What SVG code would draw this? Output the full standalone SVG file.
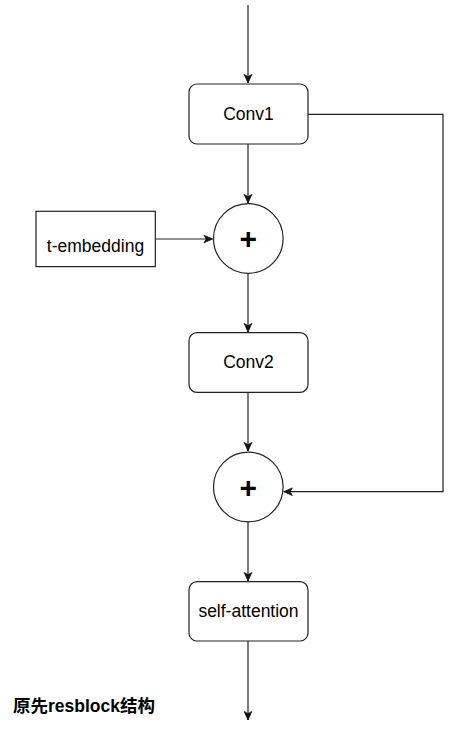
<svg xmlns="http://www.w3.org/2000/svg" width="469" height="735" viewBox="0 0 469 735">
<style>
.box{fill:#fff;stroke:#222;stroke-width:1.2}
.edge{fill:none;stroke:#222;stroke-width:1.2}
.lbl{font-family:"Liberation Sans",Arial,sans-serif;font-size:17.5px;fill:#000;text-anchor:middle}
.plus{font-family:"Liberation Sans",Arial,sans-serif;font-size:30px;font-weight:bold;fill:#000;text-anchor:middle}
.cap{font-family:"Liberation Sans","Noto Sans CJK SC",sans-serif;font-size:17.5px;font-weight:bold;fill:#000}
</style>
<defs>
<marker id="arr" markerUnits="userSpaceOnUse" markerWidth="12" markerHeight="10" viewBox="-9 -5 10 10" refX="0" refY="0" orient="auto">
<path d="M0,0 L-8.5,-3.8 L-6.3,0 L-8.5,3.8 Z" fill="#111" stroke="#111" stroke-width="0.8" stroke-linejoin="miter"/>
</marker>
</defs>
<rect width="469" height="735" fill="#fff"/>
<g id="connectors">
<path class="edge" d="M248,5 L248,83" marker-end="url(#arr)"/>
<path class="edge" d="M248,144 L248,203" marker-end="url(#arr)"/>
<path class="edge" d="M155,239 L212.5,239" marker-end="url(#arr)"/>
<path class="edge" d="M248,273 L248,332" marker-end="url(#arr)"/>
<path class="edge" d="M248,392 L248,451" marker-end="url(#arr)"/>
<path class="edge" d="M308,114.3 L443,114.3 L443,491.7 L283.8,491.7" marker-end="url(#arr)"/>
<path class="edge" d="M248,521.5 L248,581" marker-end="url(#arr)"/>
<path class="edge" d="M248,641 L248,720" marker-end="url(#arr)"/>
</g>
<g id="conv1">
<rect class="box" x="189" y="84" width="119" height="60" rx="8" ry="8"/>
<text class="lbl" x="248.5" y="120">Conv1</text>
</g>
<g id="temb">
<rect class="box" x="36" y="211.3" width="119.3" height="55.3"/>
<text class="lbl" x="95.5" y="252">t-embedding</text>
</g>
<g id="add1">
<circle class="box" cx="248.3" cy="238.5" r="34.8"/>
<text class="plus" x="248.3" y="249">+</text>
</g>
<g id="conv2">
<rect class="box" x="189" y="332.7" width="119" height="59.6" rx="8" ry="8"/>
<text class="lbl" x="248.5" y="368.3">Conv2</text>
</g>
<g id="add2">
<circle class="box" cx="248.3" cy="487" r="34.8"/>
<text class="plus" x="248.3" y="497.5">+</text>
</g>
<g id="selfattn">
<rect class="box" x="189" y="581.7" width="119" height="59.3" rx="8" ry="8"/>
<text class="lbl" x="248.5" y="617.3">self-attention</text>
</g>
<g id="caption">
<text class="cap" x="13" y="712">原先resblock结构</text>
</g>
</svg>
